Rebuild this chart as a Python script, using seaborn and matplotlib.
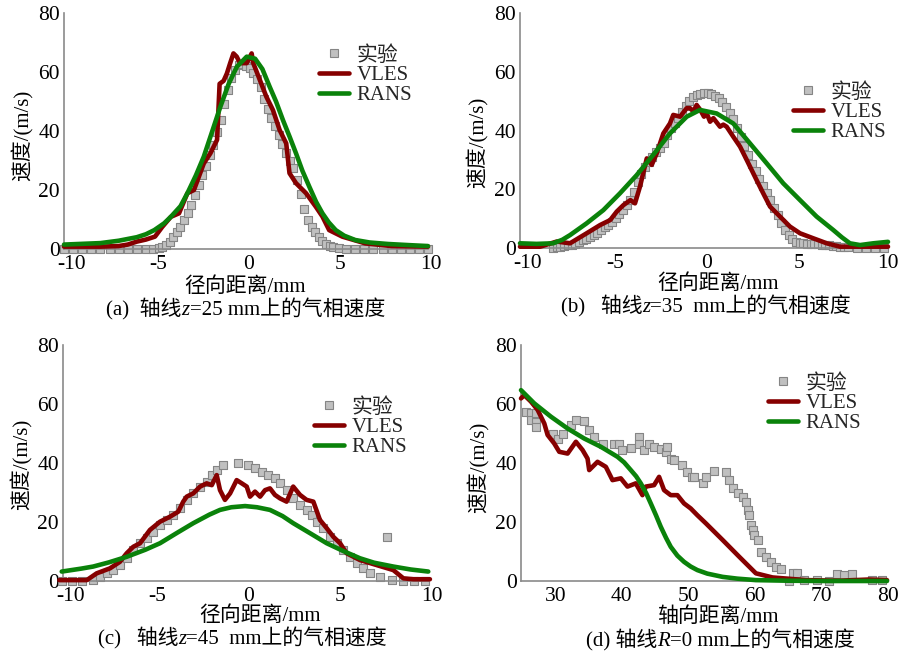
import numpy as np
import pandas as pd
import matplotlib
matplotlib.use("Agg")
import matplotlib.pyplot as plt
import matplotlib.transforms as mtransforms
import seaborn as sns
from matplotlib.lines import Line2D
from matplotlib.offsetbox import TextArea, HPacker, AnnotationBbox

# ---------------- data ----------------
# (a) z = 25 mm
exp_a_x = [-10, -9.5, -9, -8.5, -8, -7.5, -7, -6.5, -6, -5.5, -5.1,
           -4.8, -4.6, -4.4, -4.2, -4.0, -3.8, -3.6, -3.4, -3.2, -3.0, -2.8, -2.6, -2.4, -2.2, -2.0,
           -1.8, -1.6, -1.4, -1.2, -1.0, -0.8, -0.6, -0.4, -0.2, 0.0, 0.2, 0.4, 0.6, 0.8, 1.0,
           1.2, 1.4, 1.6, 1.8, 2.0, 2.2, 2.4, 2.6, 2.8, 3.0, 3.2, 3.4, 3.6, 3.8, 4.0, 4.2, 4.4,
           4.6, 4.8, 5.1, 5.5, 6.0, 6.5, 7.0, 7.5, 8.0, 8.5, 9.0, 9.5, 10.0]
exp_a_y = [0, 0, 0, 0, 0, 0, 0, 0, 0, 0, 0,
           0.3, 0.6, 1.2, 2.4, 4.2, 5.8, 7.5, 9.9, 12.3, 15.0, 18.3, 21.7, 25.0, 28.3, 31.8,
           35.3, 39.6, 43.8, 49.0, 54.0, 58.0, 60.7, 62.3, 62.8, 62.0, 61.2, 59.5, 57.5, 54.8, 51.0,
           47.5, 44.5, 41.7, 38.7, 35.5, 32.6, 29.8, 27.3, 23.5, 18.5, 13.5, 9.7, 7.3, 5.6, 3.9, 2.7, 1.7,
           1.1, 0.8, 0.4, 0.1, 0, 0, 0, 0, 0, 0, 0, 0, 0]
vles_a_x = [-10, -8, -7, -6.5, -6, -5.5, -5.0, -4.6, -4.13, -3.68, -3.22, -2.86, -2.32, -1.96,
            -1.59, -1.45, -1.23, -1.05, -0.87, -0.69, -0.51, -0.33, 0.04, 0.31, 0.4, 0.76, 1.12,
            1.48, 1.85, 2.21, 2.39, 2.75, 3.3, 3.84, 4.2, 4.57, 5.29, 6.56, 8, 10]
vles_a_y = [0.8, 0.8, 1.0, 1.5, 2.5, 3.2, 4.2, 7.5, 10.9, 12.1, 18.9, 20.0, 29.0, 32.4,
            37.0, 56.0, 57.0, 59.5, 63.0, 66.3, 65.2, 63.0, 63.0, 66.3, 63.0, 57.3, 51.6,
            47.1, 40.3, 35.8, 25.7, 22.3, 18.9, 14.3, 11.0, 6.4, 4.2, 1.9, 1.0, 0.8]
rans_a_x = [-10, -8, -7, -6, -5.5, -5.04, -4.5, -4.13, -3.6, -3.22, -2.75, -2.32, -1.85, -1.41,
            -0.95, -0.5, 0.04, 0.5, 0.9, 1.3, 1.65, 2.03, 2.4, 2.75, 3.1, 3.48, 3.85, 4.2, 4.55,
            4.93, 5.4, 6.0, 6.8, 7.8, 9, 10]
rans_a_y = [1.5, 2.0, 2.8, 4.0, 5.0, 6.4, 8.7, 10.9, 14.5, 18.9, 25.0, 31.3, 40.0, 48.2,
            56.0, 61.8, 65.2, 64.5, 61.0, 55.0, 50.0, 43.7, 38.0, 32.4, 26.5, 21.1, 16.0, 12.1, 9.0,
            6.4, 4.5, 3.05, 2.2, 1.7, 1.3, 1.0]

# (b) z = 35 mm
exp_b_x = [-8.2, -8.0, -7.8, -7.6, -7.4, -7.2, -7.0, -6.8, -6.6, -6.4, -6.2, -6.0, -5.8, -5.6,
           -5.4, -5.2, -5.0, -4.8, -4.6, -4.4, -4.2, -4.0, -3.8, -3.6, -3.4, -3.2, -3.0, -2.8,
           -2.6, -2.4, -2.2, -2.0, -1.8, -1.6, -1.4, -1.2, -1.0, -0.8, -0.6, -0.4, -0.2, 0.0,
           0.2, 0.4, 0.6, 0.8, 1.0, 1.2, 1.4, 1.6, 1.8, 2.0, 2.2, 2.4, 2.6, 2.8, 3.0, 3.2, 3.4,
           3.6, 3.8, 4.0, 4.2, 4.4, 4.6, 4.8, 5.0, 5.2, 5.4, 5.6, 5.8, 6.0, 6.2, 6.4, 6.6, 6.8,
           7.0, 7.2, 7.4, 7.6, 7.8, 8.3, 8.8, 9.3, 9.8]
exp_b_y = [0, 0.2, 0.4, 0.6, 0.9, 1.1, 1.5, 1.9, 2.6, 3.2, 3.9, 4.5, 5.1, 6.1,
           7.0, 7.9, 9.0, 10.3, 11.6, 12.8, 14.5, 16.5, 19.0, 22.3, 25.2, 27.7, 29.4, 31.0,
           32.6, 34.0, 35.7, 38.3, 40.8, 42.5, 44.3, 46.3, 48.2, 50.2, 51.3, 52.1, 52.5, 52.7,
           52.7, 52.5, 51.9, 50.9, 49.6, 47.9, 46.0, 43.8, 41.0, 37.8, 34.7, 31.6, 28.7, 26.1, 23.6, 21.1, 18.6,
           16.2, 13.6, 11.1, 8.6, 6.1, 4.3, 3.0, 2.2, 1.8, 1.6, 1.5, 1.4, 1.4, 1.3, 1.1, 1.0, 0.9,
           0.7, 0.6, 0.5, 0.3, 0.2, 0, 0, 0, 0]
vles_b_x = [-10, -8.9, -8.0, -7.28, -6.38, -5.65, -5.1, -4.74, -4.38, -4.0, -3.75, -3.48, -3.11,
            -2.84, -2.57, -2.21, -1.85, -1.67, -1.3, -0.94, -0.76, -0.58, -0.4, -0.2, 0.0, 0.15,
            0.33, 0.51, 0.87, 1.05, 1.23, 1.59, 1.96, 2.32, 2.5, 2.86, 3.22, 3.59, 4.13, 4.67,
            5.22, 5.94, 6.67, 7.39, 8.84, 10]
vles_b_y = [0.45, 0.45, 2.2, 1.6, 5.0, 7.8, 9.5, 12.4, 14.6, 16.3, 15.2, 20.9, 30.5,
            28.3, 32.2, 39.0, 42.4, 45.3, 44.7, 47.6, 47.6, 46.5, 48.7, 47.0, 44.7, 45.8,
            43.0, 44.2, 41.3, 42.0, 41.3, 37.9, 34.5, 30.0, 27.7, 23.1, 18.6, 14.1, 10.7, 7.3,
            5.0, 3.3, 1.6, 0.45, 0.45, 0.45]
rans_b_x = [-10, -9.1, -8.2, -7.7, -7.28, -6.38, -5.47, -4.57, -3.66, -2.76, -1.85, -0.94, -0.22,
            0.69, 1.59, 2.5, 3.41, 4.31, 5.22, 6.12, 7.03, 7.5, 7.93, 8.48, 9.2, 10]
rans_b_y = [1.6, 1.4, 1.6, 2.8, 4.4, 8.4, 12.9, 18.6, 24.8, 31.7, 39.0, 44.7, 47.0,
            45.8, 42.4, 35.6, 28.8, 22.0, 16.3, 10.7, 6.1, 3.6, 1.6, 1.0, 1.6, 2.1]

# (c) z = 45 mm
exp_c_x = [-10.07, -9.5, -8.97, -8.35, -7.98, -7.61, -7.25, -6.89, -6.52, -6.16, -5.79, -5.43,
           -5.07, -4.7, -4.34, -3.97, -3.61, -3.24, -2.88, -2.51, -2.15, -1.87, -1.6, -1.24,
           -0.42, 0.13, 0.49, 0.86, 1.22, 1.58, 1.86, 2.22, 2.58, 2.95, 3.31, 3.59, 3.86, 4.23,
           4.59, 4.96, 5.32, 5.68, 6.05, 6.41, 6.78, 7.32, 7.69, 7.96, 8.6, 9.2, 9.8]
exp_c_y = [0, 0, 0, 0.3, 1.5, 2.6, 3.7, 5.4, 7.7, 10.5, 12.8, 14.5,
           16.7, 19.0, 20.7, 22.4, 24.6, 27.5, 29.7, 32.0, 33.7, 35.9, 37.6, 39.3,
           39.9, 39.3, 38.2, 37.0, 35.9, 34.8, 33.1, 30.8, 28.0, 25.8, 24.1, 22.4, 20.1, 17.9,
           15.0, 12.8, 10.5, 8.2, 6.0, 4.3, 2.6, 1.5, 15.0, 0.3, 0, 0, 0]
vles_c_x = [-10.2, -8.7, -8.16, -7.43, -6.89, -6.52, -6.16, -5.79, -5.25, -4.7, -4.15, -3.7,
            -3.43, -3.24, -2.88, -2.51, -2.15, -1.87, -1.6, -1.42, -1.15, -0.87, -0.51, -0.23,
            0.04, 0.22, 0.49, 0.77, 1.04, 1.31, 1.58, 1.86, 2.22, 2.58, 2.95, 3.31, 3.68, 4.04,
            4.41, 4.77, 5.14, 5.5, 6.23, 7.14, 8.05, 8.6, 9.15, 10.05]
vles_c_y = [0.3, 0.3, 2.6, 4.3, 6.5, 9.4, 11.6, 12.8, 17.3, 20.1, 21.8, 23.5,
            26.9, 28.6, 29.7, 32.0, 33.1, 32.5, 35.9, 30.8, 27.5, 29.7, 34.2, 33.1,
            32.0, 28.6, 30.3, 28.6, 30.8, 31.4, 29.2, 28.0, 26.9, 32.0, 29.2, 27.5, 26.9, 20.7,
            17.9, 15.0, 12.8, 9.4, 7.1, 5.4, 3.7, 0.9, 0.6, 0.6]
rans_c_x = [-10.07, -9.0, -8.35, -7.5, -6.52, -5.5, -4.7, -3.8, -2.88, -2.0, -1.42, -0.8,
            -0.05, 0.6, 1.31, 2.0, 2.58, 3.5, 4.41, 5.3, 6.23, 7.0, 8.05, 9.0, 9.96]
rans_c_y = [3.2, 4.2, 4.9, 6.3, 8.2, 10.6, 12.8, 16.2, 19.6, 22.5, 24.1, 25.0,
            25.4, 25.0, 24.1, 22.0, 19.6, 16.2, 12.8, 10.2, 7.7, 6.2, 4.9, 3.9, 3.2]

# (d) R = 0 mm
exp_d_x = [25.75, 26.5, 26.5, 27.25, 27.25, 27.25, 29.75, 30.5, 31.25, 32.5, 33.25, 34.5, 35.25,
           36.0, 37.25, 39.0, 39.75, 40.25, 41.5, 42.75, 42.75, 43.5, 44.25, 45.0, 46.0, 46.75,
           47.0, 47.5, 48.0, 49.25, 50.0, 50.75, 51.0, 52.3, 52.8, 54.0, 55.8, 56.3, 56.8, 57.55,
           58.3, 58.8, 59.05, 59.3, 59.55, 59.8, 60.05, 60.55, 61.05, 61.8, 62.55, 63.3, 64.05,
           65.3, 65.8, 66.55, 67.5, 69.55, 71.3, 72.55, 73.55, 74.8, 77.8, 79.3]
exp_d_y = [57.4, 56.8, 54.5, 56.8, 54.0, 52.3, 50.0, 48.3, 50.0, 52.8, 54.5, 54.3, 51.1,
           48.9, 46.6, 46.6, 46.6, 44.4, 45.0, 48.9, 46.6, 44.4, 46.6, 45.5, 44.9, 43.8,
           45.5, 41.5, 41.0, 39.3, 37.0, 35.3, 35.3, 33.1, 35.3, 37.4, 37.0, 34.4, 31.4, 29.7,
           28.6, 26.9, 24.0, 22.3, 19.0, 17.3, 15.6, 13.9, 9.9, 8.2, 6.5, 4.8, 3.9,
           0.0, 2.8, 2.8, 0.5, 0.3, 0.0, 2.3, 2.0, 2.3, 0.3, 0.3]
vles_d_x = [25.0, 25.5, 26.5, 27.5, 28.5, 29.0, 30.0, 30.75, 32.0, 33.25, 34.25, 35.0, 35.25,
            36.5, 37.75, 38.75, 40.0, 41.0, 42.25, 43.25, 43.75, 45.0, 45.75, 46.5, 47.5, 48.5,
            49.5, 50.5, 51.5, 52.8, 55.3, 57.8, 60.3, 62.8, 67.8, 72.8, 77.3, 80.0]
vles_d_y = [61.9, 63.0, 60.8, 58.0, 53.4, 49.5, 46.6, 43.8, 43.2, 47.2, 44.4, 41.5, 37.6,
            40.4, 38.7, 34.2, 34.8, 32.0, 33.1, 29.1, 32.0, 32.5, 35.3, 30.8, 29.1, 29.1,
            26.3, 24.6, 22.3, 19.5, 13.9, 8.2, 2.6, 1.2, 0.3, 0.1, 0.5, 0.3]
rans_d_x = [25, 27, 29.5, 32, 34.5, 37, 39.5, 40.5, 41.5, 42.3, 43, 43.8, 44.5, 45.3, 46, 46.8,
            47.5, 48.5, 49.5, 50.5, 51.5, 53, 55.3, 57.5, 60.3, 65, 70.3, 80]
rans_d_y = [64.7, 60.2, 55.7, 51.7, 48.3, 45.5, 42.1, 40.2, 37.6, 35.5, 33.1, 29.8, 26.3, 22.2,
            18.4, 14.6, 11.6, 8.6, 6.5, 4.9, 3.7, 2.5, 1.4, 0.8, 0.3, 0.1, 0.0, 0.0]

series_labels = ["实验", "VLES", "RANS"]
y_ticks = [0, 20, 40, 60, 80]
x_ticks_r = [-10, -5, 0, 5, 10]
x_ticks_z = [30, 40, 50, 60, 70, 80]
captions = [("(a)  轴线", "z", "=25 mm上的气相速度"),
            ("(b)   轴线", "z", "=35  mm上的气相速度"),
            ("(c)   轴线", "z", "=45  mm上的气相速度"),
            ("(d) 轴线", "R", "=0 mm上的气相速度")]
xlabels = ["径向距离/mm", "径向距离/mm", "径向距离/mm", "轴向距离/mm"]
ylabel = "速度/(m/s)"

# ---------------- style ----------------
sns.set_theme(style="white")
FAM = ["Liberation Serif", "Noto Sans CJK SC"]
plt.rcParams["font.family"] = FAM
plt.rcParams["axes.unicode_minus"] = False

C_EXP_FACE = "#c0c0c0"
C_EXP_EDGE = "#858585"
C_VLES = "#860000"
C_RANS = "#0a820a"
C_AX = "#8a8a8a"
W, H = 901, 657

fig = plt.figure(figsize=(W / 100, H / 100), dpi=100)

# axes boxes in pixels: left, right, top, bottom
boxes = [(64, 428, 13, 249), (520, 888, 13, 248), (63, 429, 345, 581), (521, 887, 345, 581)]
legend_tl = [(319, 46), (793, 83), (314, 398), (768, 374)]
ylab_pos = [(-0.115, 0.483), (-0.114, 0.45), (-0.112, 0.496), (-0.117, 0.483)]
xlab_pos = [(0.496, -0.163), (0.538, -0.155), (0.538, -0.148), (0.538, -0.154)]
cap_pos = [(245.5, 309), (706, 306), (242.5, 638), (720, 640)]
xtick_shift = [3, 3, 3, 1]

data = [
    (exp_a_x, exp_a_y, vles_a_x, vles_a_y, rans_a_x, rans_a_y),
    (exp_b_x, exp_b_y, vles_b_x, vles_b_y, rans_b_x, rans_b_y),
    (exp_c_x, exp_c_y, vles_c_x, vles_c_y, rans_c_x, rans_c_y),
    (exp_d_x, exp_d_y, vles_d_x, vles_d_y, rans_d_x, rans_d_y),
]

for i, (ex, ey, vx, vy, rx, ry) in enumerate(data):
    l, r, t, b = boxes[i]
    ax = fig.add_axes([l / W, 1 - b / H, (r - l) / W, (b - t) / H])
    ax.set_facecolor("none")

    sns.scatterplot(x=ex, y=ey, ax=ax, marker="s", s=30, color=C_EXP_FACE,
                    edgecolor=C_EXP_EDGE, linewidth=0.8, legend=False, zorder=2, clip_on=False)
    sns.lineplot(x=vx, y=vy, ax=ax, color=C_VLES, lw=3.3, estimator=None, sort=False,
                 legend=False, zorder=3, clip_on=False)
    sns.lineplot(x=rx, y=ry, ax=ax, color=C_RANS, lw=3.3, estimator=None, sort=False,
                 legend=False, zorder=4, clip_on=False)

    if i < 3:
        ax.set_xlim(-10, 10)
        ax.set_xticks(x_ticks_r)
    else:
        ax.set_xlim(25, 80)
        ax.set_xticks(x_ticks_z)
    ax.set_ylim(0, 80)
    ax.set_yticks(y_ticks)

    sns.despine(ax=ax)
    for sp in ("left", "bottom"):
        ax.spines[sp].set_color(C_AX)
        ax.spines[sp].set_linewidth(1.2)
    ax.tick_params(axis="both", direction="in", length=4, width=1, color=C_AX,
                   labelsize=15.5, labelcolor="black")
    ax.tick_params(axis="x", pad=4)
    ax.tick_params(axis="y", pad=3)
    labs = ax.get_xticklabels()
    for j, lab in enumerate(labs):
        sh = xtick_shift[i]
        if i < 3 and j == 0:
            sh = 8
        if i == 1 and j == len(labs) - 1:
            sh = 0
        off = mtransforms.ScaledTranslation(sh / 100, 0, fig.dpi_scale_trans)
        lab.set_transform(lab.get_transform() + off)

    ax.set_ylabel(ylabel, fontsize=15, color="black")
    ax.yaxis.set_label_coords(*ylab_pos[i])
    ax.yaxis.label.set_va("center")
    ax.set_xlabel(xlabels[i], fontsize=15, color="black")
    ax.xaxis.set_label_coords(*xlab_pos[i])
    ax.xaxis.label.set_va("center")

    handles = [
        Line2D([], [], ls="none", marker="s", ms=5.6, mfc=C_EXP_FACE, mec=C_EXP_EDGE, mew=0.8),
        Line2D([], [], color=C_VLES, lw=3.3),
        Line2D([], [], color=C_RANS, lw=3.3),
    ]
    lx, ly = legend_tl[i]
    ax.legend(handles, series_labels, loc="upper left", bbox_to_anchor=(lx / W, 1 - ly / H),
              bbox_transform=fig.transFigure, frameon=False, fontsize=15, borderpad=0,
              borderaxespad=0, handlelength=1.45, handletextpad=0.35, labelspacing=0.0)

    p1, p2, p3 = captions[i]
    tp = dict(fontsize=15, family=FAM, color="black")
    pack = HPacker(children=[TextArea(p1, textprops=tp),
                             TextArea(p2, textprops=dict(fontsize=15, family=["Liberation Serif"],
                                                         style="italic", color="black")),
                             TextArea(p3, textprops=tp)], align="baseline", pad=0, sep=0)
    cx, cy = cap_pos[i]
    ab = AnnotationBbox(pack, (cx / W, 1 - cy / H), xycoords="figure fraction",
                        frameon=False, box_alignment=(0.5, 0.5), pad=0)
    ax.add_artist(ab)

fig.savefig("out.png", dpi=100)
